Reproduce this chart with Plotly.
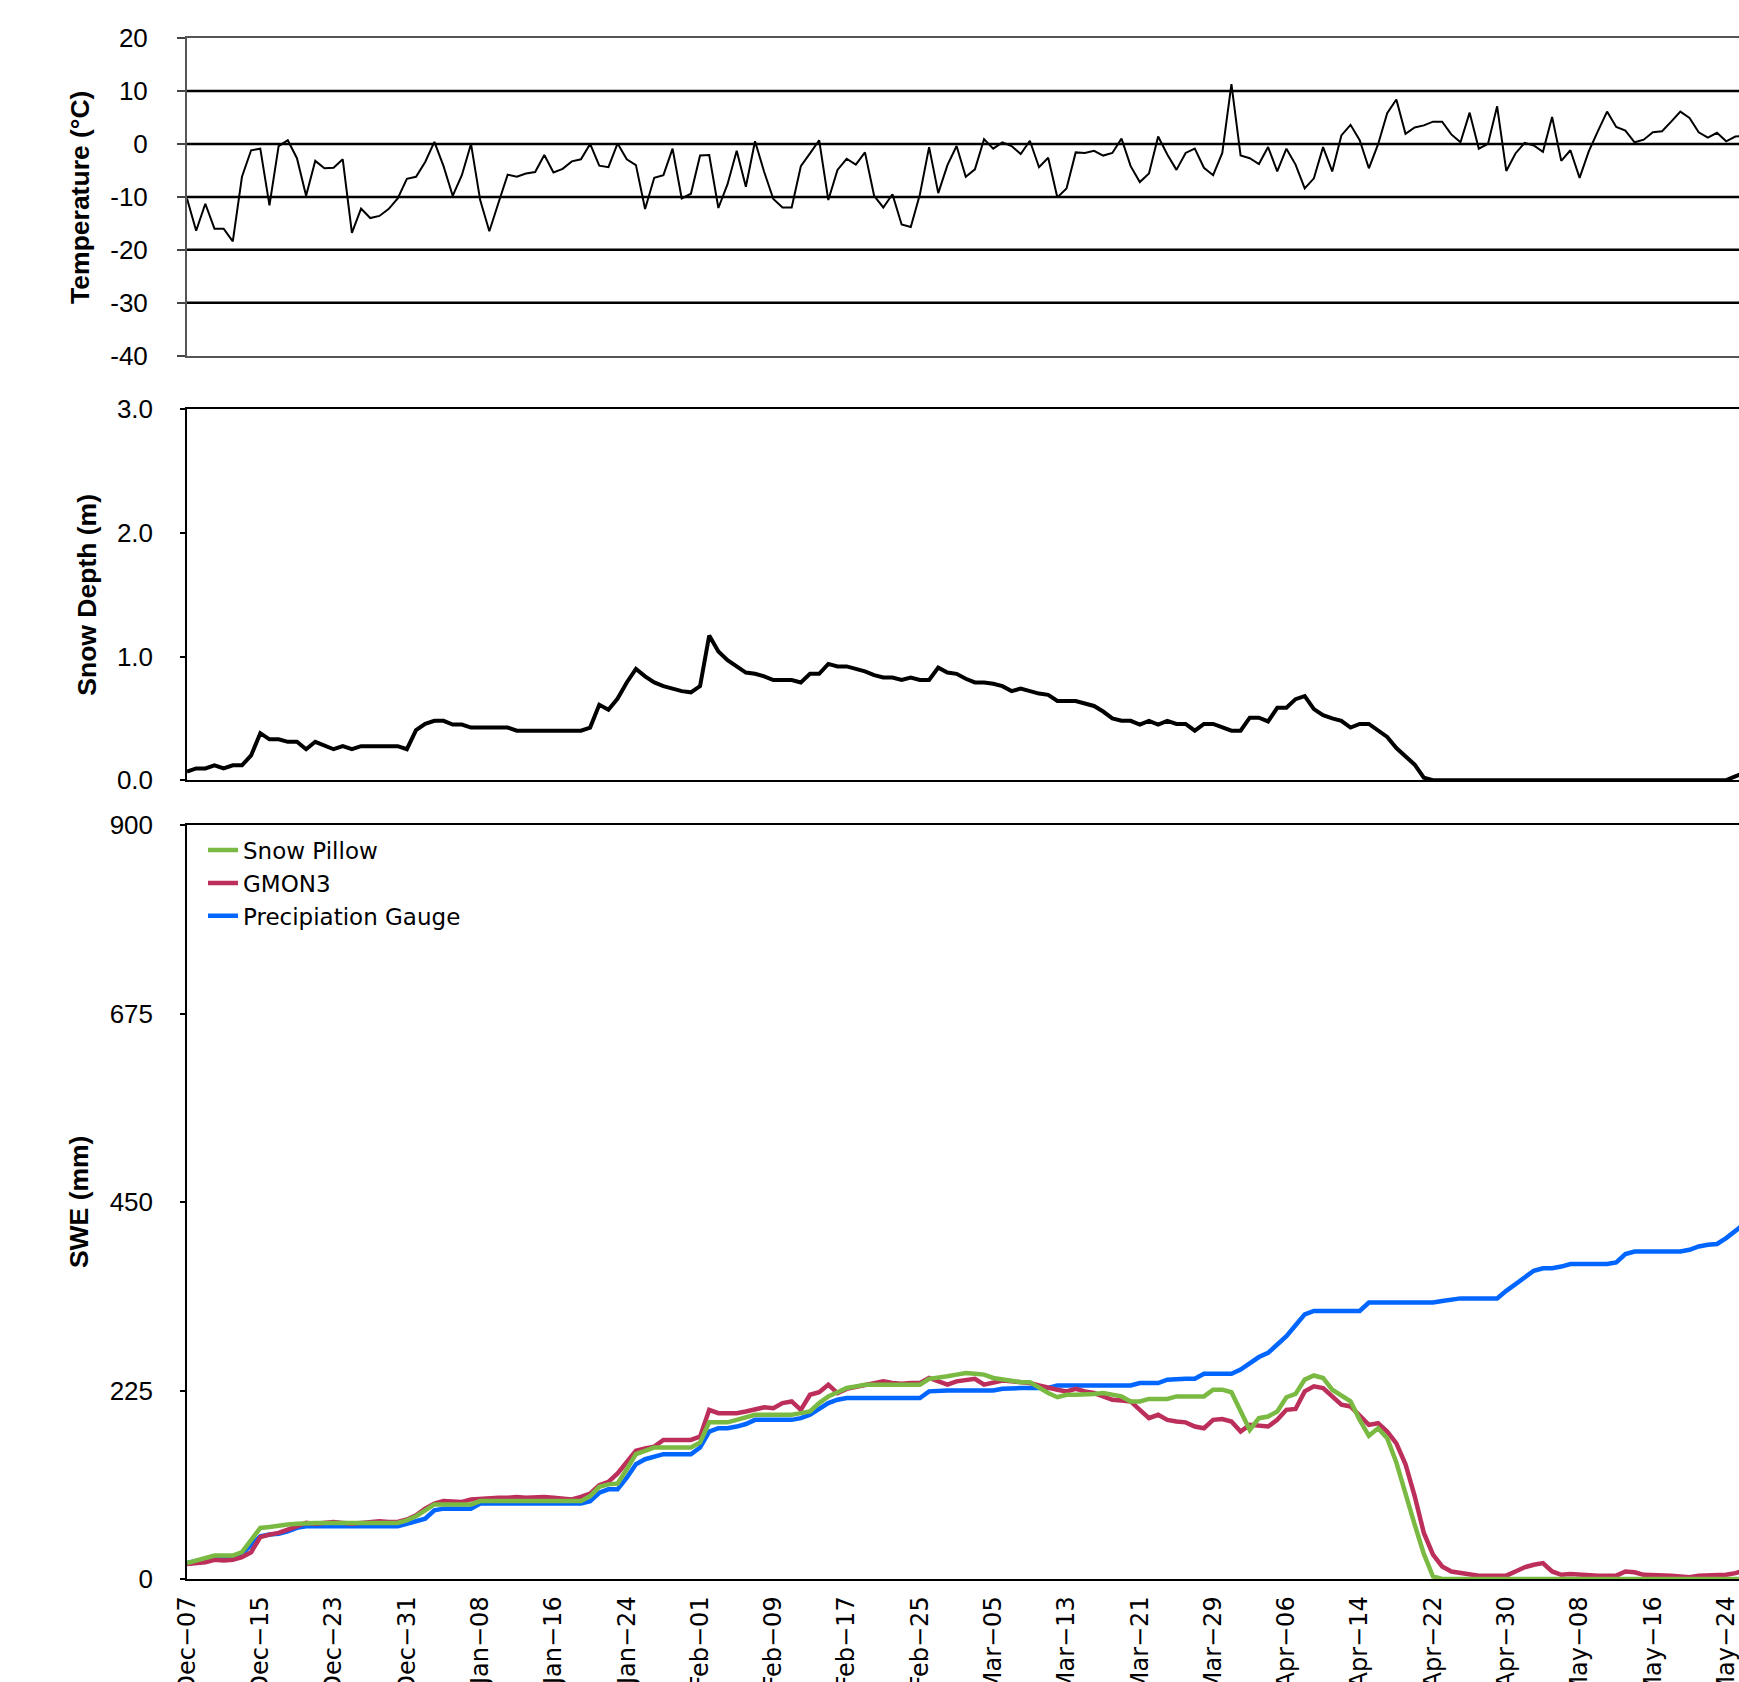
import pandas as pd
import plotly.graph_objects as go

# ---- daily series, 7 Dec 2010 onwards ----
start = "2010-12-07"
dates = pd.date_range(start, periods=171, freq="D")

temperature = [
    -10.3, -16.4, -11.3, -16.0, -16.0, -18.4, -6.2, -1.2, -0.9, -11.6,
    -0.4, 0.7, -2.7, -9.8, -3.2, -4.6, -4.5, -2.9, -16.8, -12.2,
    -14.0, -13.6, -12.3, -10.3, -6.6, -6.2, -3.4, 0.4, -4.2, -9.8,
    -5.9, 0.0, -10.6, -16.5, -11.1, -5.8, -6.2, -5.6, -5.3, -2.1,
    -5.4, -4.7, -3.3, -2.9, 0.0, -4.1, -4.4, 0.1, -2.9, -4.0,
    -12.3, -6.4, -5.9, -0.9, -10.3, -9.4, -2.2, -2.1, -12.1, -7.6,
    -1.3, -8.1, 0.5, -5.3, -10.4, -12.0, -12.0, -4.2, -1.8, 0.7,
    -10.6, -4.9, -2.8, -3.9, -1.6, -9.8, -12.0, -9.5, -15.2, -15.7,
    -9.5, -0.6, -9.3, -4.0, -0.4, -6.2, -4.8, 0.9, -0.9, 0.3,
    -0.4, -1.9, 0.6, -4.4, -2.6, -10.1, -8.4, -1.6, -1.7, -1.3,
    -2.2, -1.7, 1.0, -4.2, -7.2, -5.6, 1.4, -2.0, -4.9, -1.7,
    -0.9, -4.5, -5.9, -1.7, 11.3, -2.2, -2.7, -3.8, -0.6, -5.2,
    -0.9, -3.9, -8.4, -6.5, -0.6, -5.2, 1.6, 3.6, 0.7, -4.6,
    -0.1, 5.8, 8.4, 1.9, 3.1, 3.5, 4.2, 4.2, 1.8, 0.3,
    5.9, -0.9, 0.0, 7.1, -5.1, -1.8, 0.2, -0.3, -1.5, 5.1,
    -3.2, -1.2, -6.4, -1.4, 2.4, 6.1, 3.2, 2.5, 0.3, 0.8,
    2.2, 2.4, 4.2, 6.1, 4.9, 2.2, 1.2, 2.1, 0.5, 1.4,
    1.5,
]

snow_depth = [
    0.07, 0.095, 0.095, 0.12, 0.095, 0.12, 0.12, 0.20, 0.38, 0.33,
    0.33, 0.31, 0.31, 0.25, 0.31, 0.28, 0.25, 0.275, 0.25, 0.275,
    0.275, 0.275, 0.275, 0.275, 0.25, 0.405, 0.455, 0.48, 0.48, 0.45,
    0.45, 0.425, 0.425, 0.425, 0.425, 0.425, 0.40, 0.40, 0.40, 0.40,
    0.40, 0.40, 0.40, 0.40, 0.425, 0.61, 0.57, 0.66, 0.79, 0.90,
    0.84, 0.79, 0.76, 0.74, 0.72, 0.71, 0.76, 1.17, 1.04, 0.97,
    0.92, 0.87, 0.86, 0.84, 0.81, 0.81, 0.81, 0.79, 0.86, 0.86,
    0.94, 0.92, 0.92, 0.90, 0.88, 0.85, 0.83, 0.83, 0.81, 0.83,
    0.81, 0.81, 0.91, 0.87, 0.86, 0.82, 0.79, 0.79, 0.78, 0.76,
    0.72, 0.74, 0.72, 0.70, 0.69, 0.64, 0.64, 0.64, 0.62, 0.60,
    0.555, 0.50, 0.48, 0.48, 0.45, 0.48, 0.45, 0.48, 0.455, 0.455,
    0.40, 0.455, 0.455, 0.43, 0.40, 0.40, 0.505, 0.505, 0.475, 0.585,
    0.585, 0.655, 0.68, 0.575, 0.525, 0.50, 0.48, 0.425, 0.455, 0.455,
    0.405, 0.35, 0.26, 0.195, 0.125, 0.02, 0.0, 0.0, 0.0, 0.0,
    0.0, 0.0, 0.0, 0.0, 0.0, 0.0, 0.0, 0.0, 0.0, 0.0,
    0.0, 0.0, 0.0, 0.0, 0.0, 0.0, 0.0, 0.0, 0.0, 0.0,
    0.0, 0.0, 0.0, 0.0, 0.0, 0.0, 0.0, 0.0, 0.0, 0.03,
    0.06,
]

swe_pillow = [
    19, 22, 25, 28, 28, 28, 32, 47, 61, 62,
    64, 65, 66, 67, 67, 67, 67, 67, 67, 67,
    67, 67, 67, 67, 70, 75, 82, 89, 89, 89,
    89, 89, 93, 93, 93, 93, 93, 93, 93, 93,
    93, 93, 93, 93, 99, 110, 113, 114, 131, 149,
    153, 157, 157, 157, 157, 157, 163, 187, 187, 187,
    190, 193, 196, 196, 196, 196, 196, 198, 200, 210,
    218, 223, 228, 230, 232, 232, 232, 232, 232, 232,
    232, 239, 240, 242, 244, 246, 245, 244, 240, 238,
    236, 235, 235, 228, 222, 217, 220, 220, 220, 221,
    222, 220, 218, 212, 212, 215, 215, 215, 218, 218,
    218, 218, 226, 226, 223, 200, 178, 192, 194, 200,
    217, 221, 238, 243, 240, 226, 219, 212, 190, 171,
    180, 168, 139, 100, 65, 30, 3, 0, 0, 0,
    0, 0, 0, 0, 0, 0, 0, 0, 0, 0,
    0, 0, 0, 0, 0, 0, 0, 0, 0, 0,
    0, 0, 0, 0, 0, 0, 0, 0, 0, 0,
    0,
]

swe_gmon3 = [
    18, 19, 20, 23, 22, 23, 26, 32, 50, 53,
    55, 59, 63, 67, 66, 67, 68, 67, 66, 67,
    68, 69, 68, 68, 71, 76, 84, 90, 93, 92,
    92, 95, 96, 97, 97, 97, 98, 97, 98, 98,
    97, 96, 95, 98, 102, 112, 116, 126, 140, 153,
    156, 158, 166, 166, 165, 166, 170, 202, 198, 198,
    198, 200, 202, 205, 204, 210, 212, 202, 220, 223,
    232, 222, 227, 229, 231, 233, 236, 234, 233, 234,
    234, 240, 236, 232, 236, 238, 239, 232, 234, 237,
    236, 235, 234, 231, 228, 226, 224, 227, 224, 222,
    218, 214, 213, 212, 202, 192, 196, 190, 188, 187,
    182, 180, 190, 191, 188, 176, 184, 183, 182, 190,
    202, 203, 224, 230, 228, 218, 208, 206, 195, 184,
    186, 176, 162, 137, 99, 55, 29, 15, 9, 7,
    5, 4, 4, 4, 4, 9, 14, 17, 19, 9,
    5, 6, 5, 5, 4, 4, 4, 9, 8, 5,
    5, 5, 4, 3, 2, 4, 4, 4, 5, 7,
    10,
]

swe_gauge = [
    19, 21, 24, 27, 27, 27, 30, 40, 51, 53,
    54, 57, 61, 63, 63, 63, 63, 63, 63, 63,
    63, 63, 63, 63, 66, 69, 72, 82, 84, 84,
    84, 84, 90, 90, 90, 90, 90, 90, 90, 90,
    90, 90, 90, 90, 93, 103, 107, 107, 121, 137,
    143, 146, 149, 149, 149, 149, 157, 176, 180, 180,
    182, 185, 190, 190, 190, 190, 190, 192, 196, 203,
    210, 214, 216, 216, 216, 216, 216, 216, 216, 216,
    216, 224, 225, 225, 225, 225, 225, 225, 225, 227,
    228, 228, 228, 228, 228, 231, 231, 231, 231, 231,
    231, 231, 231, 231, 234, 234, 234, 238, 239, 239,
    239, 245, 245, 245, 245, 250, 258, 265, 270, 280,
    290, 303, 316, 320, 320, 320, 320, 320, 320, 330,
    330, 330, 330, 330, 330, 330, 330, 332, 334, 335,
    335, 335, 335, 335, 344, 352, 360, 368, 371, 371,
    373, 376, 376, 376, 376, 376, 378, 388, 391, 391,
    391, 391, 391, 391, 393, 397, 399, 400, 407, 415,
    424,
]

temp_ticks = [-40, -30, -20, -10, 0, 10, 20]
temp_tick_text = ["-40", "-30", "-20", "-10", "0", "10", "20"]
temp_grid = [-30, -20, -10, 0, 10]
depth_ticks = [0, 1, 2, 3]
swe_ticks = [0, 225, 450, 675, 900]

x_start = pd.Timestamp(start)
x_end = x_start + pd.Timedelta(days=169.4)
x_range = [x_start.strftime("%Y-%m-%d %H:%M:%S"), x_end.strftime("%Y-%m-%d %H:%M:%S")]

TICK_FONT = dict(family="Liberation Sans, Arial, sans-serif", size=26, color="black")
DATE_FONT = dict(family="DejaVu Sans, sans-serif", size=24, color="black")

fig = go.Figure()

fig.add_trace(go.Scatter(
    x=dates, y=temperature, mode="lines", showlegend=False,
    line=dict(color="black", width=2), xaxis="x", yaxis="y",
))
fig.add_trace(go.Scatter(
    x=dates, y=snow_depth, mode="lines", showlegend=False,
    line=dict(color="black", width=4), xaxis="x2", yaxis="y2",
))
swe_series = [
    ("Precipiation Gauge", swe_gauge, "#0066ff"),
    ("GMON3", swe_gmon3, "#bd2f5b"),
    ("Snow Pillow", swe_pillow, "#7aba43"),
]
for name, values, color in swe_series:
    fig.add_trace(go.Scatter(
        x=dates, y=values, name=name, mode="lines",
        line=dict(color=color, width=4.5), xaxis="x3", yaxis="y3",
    ))

# horizontal reference lines of the temperature panel
for v in temp_grid:
    fig.add_shape(type="line", xref="x domain", yref="y", x0=0, x1=1, y0=v, y1=v,
                  line=dict(color="black", width=2.5), layer="below")

common_x = dict(type="date", range=x_range, showgrid=False, zeroline=False,
                showline=True, mirror=True, automargin=False)
common_y = dict(showgrid=False, zeroline=False, showline=True, automargin=False,
                ticks="outside", tickwidth=1.5, tickfont=TICK_FONT)

fig.update_layout(
    width=1739, height=1682,
    margin=dict(l=187, r=0, t=38, b=103, autoexpand=False),
    paper_bgcolor="white", plot_bgcolor="white",
    font=TICK_FONT,
    xaxis=dict(**common_x, anchor="y", domain=[0, 1], showticklabels=False,
               linecolor="#555555", linewidth=2),
    xaxis2=dict(**common_x, anchor="y2", domain=[0, 1], showticklabels=False,
                linecolor="black", linewidth=1.5),
    xaxis3=dict(**common_x, anchor="y3", domain=[0, 1],
                linecolor="black", linewidth=1.5,
                tick0=x_range[0], dtick=8 * 86400000, tickformat="%b\u2212%d",
                tickangle=-90, tickfont=DATE_FONT, ticks="", ticklabelstandoff=6,
                ticklabeloverflow="allow"),
    yaxis=dict(**common_y, domain=[0.7938, 1.0], range=[-40, 20],
               tickvals=temp_ticks, ticktext=temp_tick_text,
               linecolor="#555555", linewidth=2,
               ticklen=8, tickcolor="#444444", ticklabelstandoff=24),
    yaxis2=dict(**common_y, domain=[0.5184, 0.7591], range=[0, 3],
                tickvals=depth_ticks, tickformat=".1f",
                linecolor="black", linewidth=1.5,
                ticklen=5, tickcolor="black", ticklabelstandoff=22),
    yaxis3=dict(**common_y, domain=[0.0, 0.4892], range=[0, 900],
                tickvals=swe_ticks,
                linecolor="black", linewidth=1.5,
                ticklen=5, tickcolor="black", ticklabelstandoff=22),
    legend=dict(x=0.0103, y=0.487, xanchor="left", yanchor="top",
                traceorder="reversed", tracegroupgap=0,
                bgcolor="rgba(0,0,0,0)", borderwidth=0,
                font=dict(family="DejaVu Sans, sans-serif", size=23, color="black")),
)

# vertical axis titles
TITLE_FONT = dict(family="Liberation Sans, Arial, sans-serif", size=26.5, color="black")
titles = [
    ("<b>Temperature (\u00b0C)</b>", 80, (0.7938 + 1.0) / 2),
    ("<b>Snow Depth (m)</b>", 87, (0.5184 + 0.7591) / 2),
    ("<b>SWE (mm)</b>", 79, 0.4892 / 2),
]
for text, px, ypos in titles:
    fig.add_annotation(text=text, xref="paper", yref="paper",
                       x=(px - 187) / 1552, y=ypos, xanchor="center", yanchor="middle",
                       textangle=-90, showarrow=False, font=TITLE_FONT)

fig.write_html("out.html", config={"displayModeBar": False},
               post_script="document.body.style.margin='0px';")
